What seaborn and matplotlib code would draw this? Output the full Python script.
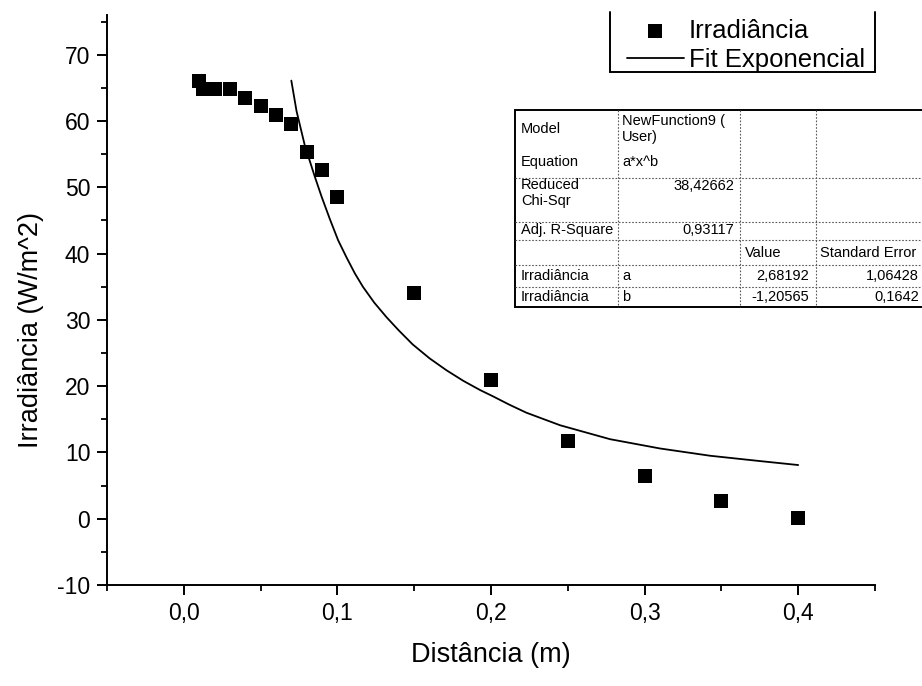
import matplotlib
matplotlib.use("Agg")
import matplotlib.pyplot as plt
import seaborn as sns
import pandas as pd
from matplotlib.ticker import MultipleLocator, FuncFormatter
from matplotlib.patches import Rectangle

# ---- data ----
dist = [0.01, 0.0125, 0.02, 0.03, 0.04, 0.05, 0.06, 0.07, 0.08, 0.09, 0.1,
        0.15, 0.2, 0.25, 0.3, 0.35, 0.4]
irr = [66.1, 64.9, 64.9, 64.8, 63.5, 62.2, 60.9, 59.5, 55.3, 52.6, 48.6,
       34.1, 20.9, 11.7, 6.5, 2.7, 0.1]

fit_x = [0.07, 0.0734, 0.0788, 0.0853, 0.0897, 0.0951, 0.1005, 0.106, 0.1114,
         0.1166, 0.124, 0.132, 0.14, 0.149, 0.16, 0.171, 0.182, 0.193, 0.201,
         0.212, 0.223, 0.245, 0.2775, 0.31, 0.3427, 0.375, 0.4]
fit_y = [66.1, 61.5, 56.3, 51.6, 48.6, 45.2, 42.0, 39.4, 37.0,
         35.0, 32.6, 30.4, 28.4, 26.3, 24.2, 22.4, 20.8, 19.4, 18.5,
         17.2, 16.0, 14.1, 12.0, 10.6, 9.5, 8.7, 8.1]

table_rows = [
    ("Model", "NewFunction9 (\nUser)", "", ""),
    ("Equation", "a*x^b", "", ""),
    ("Reduced\nChi-Sqr", "38,42662", "", ""),
    ("Adj. R-Square", "0,93117", "", ""),
    ("", "", "Value", "Standard Error"),
    ("Irradiância", "a", "2,68192", "1,06428"),
    ("Irradiância", "b", "-1,20565", "0,1642"),
]

sns.set_style("ticks")
plt.rcParams["font.family"] = ["Liberation Sans", "DejaVu Sans"]
plt.rcParams["axes.linewidth"] = 1.4
plt.rcParams["text.color"] = "black"
plt.rcParams["axes.labelcolor"] = "black"
plt.rcParams["axes.edgecolor"] = "black"
plt.rcParams["xtick.color"] = "black"
plt.rcParams["ytick.color"] = "black"

fig = plt.figure(figsize=(9.22, 6.86), dpi=100)
W, H = 922, 686
ax = fig.add_axes([107 / W, 1 - 585 / H, (875 - 107) / W, (585 - 15) / H])

df = pd.DataFrame({"Distância (m)": dist, "Irradiância": irr})
dfit = pd.DataFrame({"x": fit_x, "y": fit_y})

sns.scatterplot(data=df, x="Distância (m)", y="Irradiância", ax=ax, marker="s",
                s=95, color="black", edgecolor="black", linewidth=0,
                label="Irradiância", zorder=3)
sns.lineplot(data=dfit, x="x", y="y", ax=ax, color="black", linewidth=1.3,
             label="Fit Exponencial", zorder=2)

ax.set_xlim(-0.05, 0.45)
ax.set_ylim(-10, 76)
ax.xaxis.set_major_locator(MultipleLocator(0.1))
ax.xaxis.set_minor_locator(MultipleLocator(0.05))
ax.yaxis.set_major_locator(MultipleLocator(10))
ax.yaxis.set_minor_locator(MultipleLocator(5))
ax.xaxis.set_major_formatter(FuncFormatter(lambda v, p: f"{v:.1f}".replace(".", ",")))
ax.yaxis.set_major_formatter(FuncFormatter(lambda v, p: f"{v:.0f}"))
ax.tick_params(which="major", direction="out", length=7, width=1.4,
               labelsize=16.5, colors="black", pad=5)
ax.tick_params(which="minor", direction="out", length=4.5, width=1.3, colors="black")
sns.despine(ax=ax)
ax.set_xlabel("Distância (m)", fontsize=19.5, color="black")
ax.set_ylabel("Irradiância (W/m^2)", fontsize=19.5, color="black")
ax.xaxis.set_label_coords(0.5, -0.100)
ax.yaxis.set_label_coords(-0.082, 0.447)

# legend (frame drawn separately: its top edge lies outside the picture)
handles, labels = ax.get_legend_handles_labels()
order = [labels.index("Irradiância"), labels.index("Fit Exponencial")]
leg = ax.legend([handles[i] for i in order], [labels[i] for i in order],
                loc="lower left", bbox_to_anchor=(627 / W, 1 - 72 / H),
                bbox_transform=fig.transFigure, fontsize=18.5, frameon=False,
                handlelength=2.2, handletextpad=0.2, borderpad=0,
                labelspacing=0.2, borderaxespad=0, labelcolor="black")

# overlay axes in pixel coordinates for legend frame and fit table
tax = fig.add_axes([0, 0, 1, 1], zorder=5)
tax.set_xlim(0, W)
tax.set_ylim(H, 0)
tax.axis("off")
tax.patch.set_alpha(0)
tax.plot([610, 610, 875, 875], [12, 72, 72, 12], color="black", lw=1.4,
         solid_joinstyle="miter")

left, c1, c2, c3, right = 515, 618, 740, 816, 940
top, bottom = 110, 307
hseps = [178, 222, 240, 265, 287]
tax.add_patch(Rectangle((left, top), right - left, bottom - top, facecolor="white",
                        edgecolor="black", linewidth=1.4, zorder=1))
for y in hseps:
    tax.plot([left, right], [y, y], color="0.35", lw=0.8, ls=(0, (1.5, 1.5)), zorder=2)
for x in [c1, c2, c3]:
    tax.plot([x, x], [top, bottom], color="0.35", lw=0.8, ls=(0, (1.5, 1.5)), zorder=2)

row_y = [129, 162, 193, 230, 253, 276, 297]
fs = 10.5
for (a, b, c, d), y in zip(table_rows, row_y):
    tax.text(521, y, a, ha="left", va="center", fontsize=fs, linespacing=1.1)
    if b in ("38,42662", "0,93117"):
        tax.text(734, y - 7 if "38" in b else y, b, ha="right", va="center", fontsize=fs)
    else:
        tax.text(622, y, b, ha="left", va="center", fontsize=fs, linespacing=1.1)
    if c == "Value":
        tax.text(745, y, c, ha="left", va="center", fontsize=fs)
        tax.text(820, y, d, ha="left", va="center", fontsize=fs)
    elif c:
        tax.text(809, y, c, ha="right", va="center", fontsize=fs)
        tax.text(919, y, d, ha="right", va="center", fontsize=fs)

fig.savefig("out.png", dpi=100, facecolor="white")
